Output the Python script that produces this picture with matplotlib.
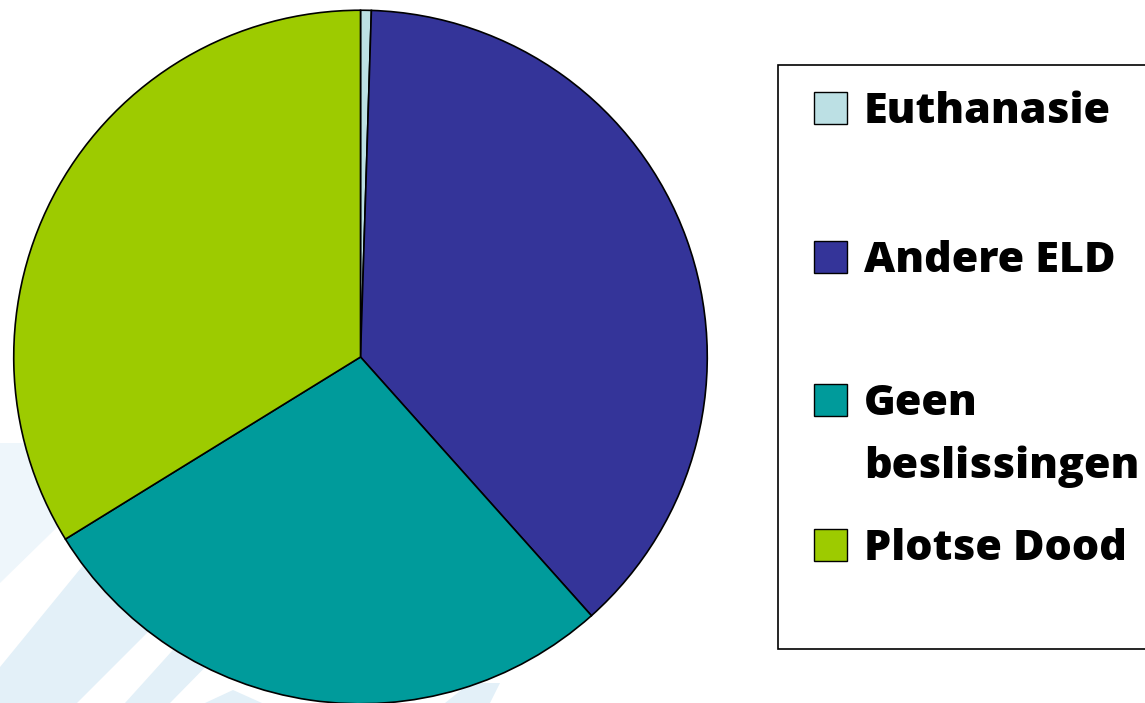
import matplotlib
matplotlib.use("Agg")
import matplotlib.pyplot as plt
from matplotlib.patches import Rectangle, Polygon

# Share of deaths by category (percent)
categories = ["Euthanasie", "Andere ELD", "Geen beslissingen", "Plotse Dood"]
legend_lines = [["Euthanasie"], ["Andere ELD"], ["Geen", "beslissingen"], ["Plotse Dood"]]
shares = [0.5, 37.9, 27.8, 33.8]
colors = ["#bce0e4", "#343499", "#009b9b", "#9dcb00"]

W, H = 1145, 703
fig = plt.figure(figsize=(W / 100, H / 100), dpi=100)

# Full-figure canvas in pixel units for the backdrop and the legend
bg = fig.add_axes([0, 0, 1, 1])
bg.set_xlim(0, W)
bg.set_ylim(H, 0)
bg.axis("off")

# Soft diagonal backdrop bands
faint = "#eef6fb"
pale = "#e3f0f8"
bands = [
    ([(0, 443), (300, 443), (300, 290), (0, 583)], faint),
    ([(0, 667), (300, 300), (300, 480), (77, 703), (0, 703)], pale),
    ([(125, 703), (330, 476), (330, 540), (170, 703)], pale),
    ([(205, 703), (233, 690), (262, 703)], pale),
    ([(445, 703), (470, 683), (500, 683), (490, 703)], pale),
]
for pts, c in bands:
    bg.add_patch(Polygon(pts, closed=True, facecolor=c, edgecolor="none", zorder=0))

# Pie chart
cx, cy, r = 360.5, 357, 348.5
pie_ax = fig.add_axes([(cx - r) / W, (H - cy - r) / H, 2 * r / W, 2 * r / H])
pie_ax.pie(
    shares,
    colors=colors,
    startangle=90,
    counterclock=False,
    radius=1.0,
    wedgeprops=dict(edgecolor="black", linewidth=1.2),
)
pie_ax.set_xlim(-1.005, 1.005)
pie_ax.set_ylim(-1.005, 1.005)
pie_ax.set_aspect("equal")
pie_ax.axis("off")

# Legend box
bg.add_patch(Rectangle((778, 65), 400, 584, facecolor="white",
                       edgecolor="black", linewidth=1.2, zorder=1))

font = dict(family="Open Sans", weight="heavy", size=31)
baselines = [[123], [272], [415, 478], [560]]
for lines, color, bls in zip(legend_lines, colors, baselines):
    top = bls[0] - 31
    bg.add_patch(Rectangle((814, top), 33, 32, facecolor=color,
                           edgecolor="black", linewidth=1.0, zorder=2))
    for txt, b in zip(lines, bls):
        bg.text(864, b, txt, ha="left", va="baseline", color="black",
                zorder=3, **font)

fig.savefig("out.png", dpi=100)
